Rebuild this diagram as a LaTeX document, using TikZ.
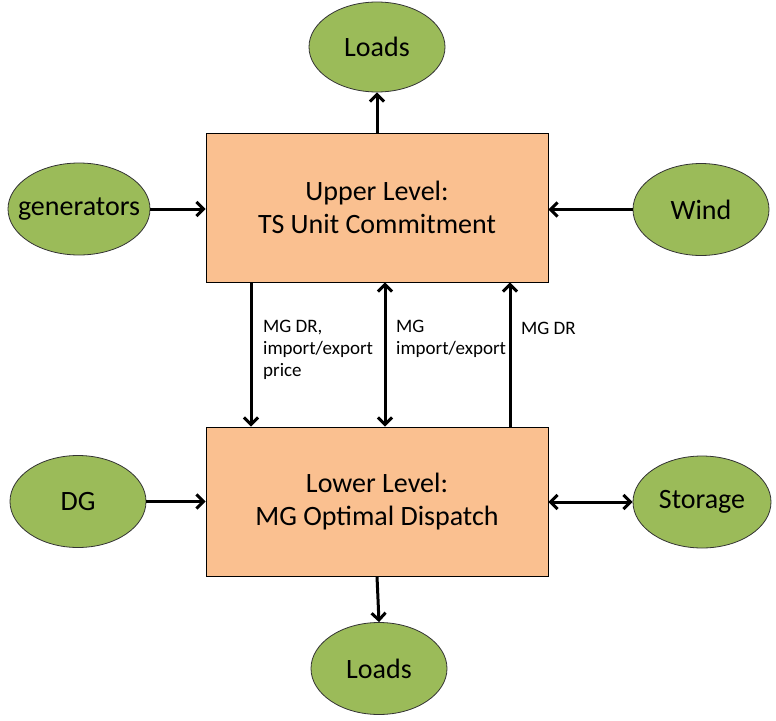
\documentclass[tikz,border=0pt]{standalone}
\usepackage{fontspec}
\setmainfont{Carlito}
\usetikzlibrary{arrows.meta,shapes.geometric}
\definecolor{olivegreen}{HTML}{9BBB59}
\definecolor{peach}{HTML}{FAC090}
\tikzset{
  arr/.style={line width=3pt,-{Straight Barb[length=7pt,width=14pt]}},
  darr/.style={line width=3pt,{Straight Barb[length=7pt,width=14pt]}-{Straight Barb[length=7pt,width=14pt]}}
}
\begin{document}
\begin{tikzpicture}[x=1pt,y=-1pt,
    level/.style={rectangle,draw=black,line width=0.8pt,fill=peach,minimum width=342pt,minimum height=149pt,align=center,font=\fontsize{28}{33}\selectfont},
    part/.style={ellipse,draw=black!80,line width=0.8pt,fill=olivegreen,minimum width=136pt,minimum height=92pt,inner sep=0pt,font=\fontsize{28}{33}\selectfont},
    info/.style={anchor=west,align=left,inner sep=0pt,font=\fontsize{19}{22}\selectfont}]
  \useasboundingbox (0,0) rectangle (776,720);
  % the two levels
  \node[level] (up) at (377,207.5) {Upper Level:\\TS Unit Commitment};
  \node[level] (low) at (377,501.5) {Lower Level:\\MG Optimal Dispatch};
  % the parts round them
  \node[part,minimum height=90pt] (loadup) at (377,47) {Loads};
  \node[part,minimum width=142pt] (gen) at (79,209) {\makebox[0pt]{generators}};
  \node[part] (wind) at (701,209.5) {Wind};
  \node[part] (dg) at (78,501.5) {DG};
  \node[part,minimum width=138pt] (stor) at (702,502) {Storage};
  \node[part] (loadlow) at (379,668.5) {Loads};
  % connectors
  \draw[arr] (up.north) -- (loadup.south);
  \draw[arr] (gen.east) -- (gen.east -| up.west);
  \draw[arr] (wind.west) -- (wind.west -| up.east);
  \draw[arr] (dg.east) -- (dg.east -| low.west);
  \draw[darr] (low.east |- stor.west) -- (stor.west);
  \draw[arr] (low.south) -- (loadlow.north);
  \draw[arr] ([xshift=-126pt]up.south) -- ([xshift=-126pt]low.north);
  \draw[darr] ([xshift=8pt]up.south) -- ([xshift=8pt]low.north);
  \draw[arr] ([xshift=133pt]low.north) -- ([xshift=133pt]up.south);
  % labels between the levels
  \node[info] (l1) at (263,350) {MG DR,\\import/export\\price};
  \node[info] (l2) at (396,339) {MG\\import/export};
  \node[info] (l3) at (521,328) {MG DR};
\end{tikzpicture}
\end{document}
